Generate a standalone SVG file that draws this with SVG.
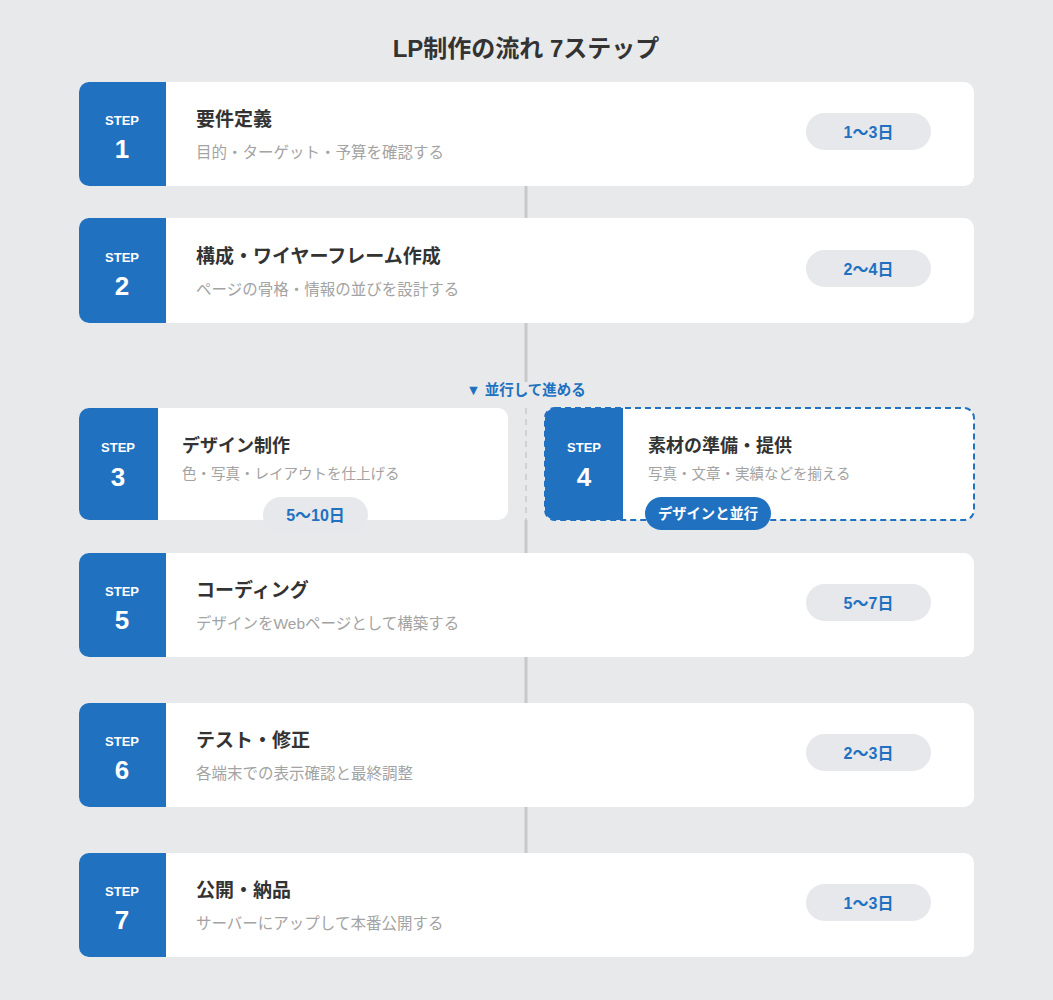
<svg xmlns="http://www.w3.org/2000/svg" width="1053" height="1000" viewBox="0 0 1053 1000">
<defs>
<style>
.bg{fill:#e8e9eb}
.card{fill:#ffffff}
.blk{fill:#2171c1}
.step{font-family:"Liberation Sans","Noto Sans CJK JP",sans-serif;font-size:13px;font-weight:bold;fill:#ffffff;text-anchor:middle}
.num{font-family:"Liberation Sans","Noto Sans CJK JP",sans-serif;font-size:26px;font-weight:bold;fill:#ffffff;text-anchor:middle}
.ttl{font-family:"Liberation Sans","Noto Sans CJK JP",sans-serif;font-size:19px;font-weight:bold;fill:#333333}
.sub{font-family:"Liberation Sans","Noto Sans CJK JP",sans-serif;font-size:15.5px;fill:#a3a3a3}
.ttl2{font-family:"Liberation Sans","Noto Sans CJK JP",sans-serif;font-size:18px;font-weight:bold;fill:#333333}
.sub2{font-family:"Liberation Sans","Noto Sans CJK JP",sans-serif;font-size:14.5px;fill:#a3a3a3}
.pill{fill:#e7e8eb}
.pt{font-family:"Liberation Sans","Noto Sans CJK JP",sans-serif;font-size:16px;font-weight:bold;fill:#2171c1;text-anchor:middle}
.ln{stroke:#c8c8c8;stroke-width:3;fill:none}
</style>
</defs>
<rect class="bg" x="0" y="0" width="1053" height="1000"/>
<text x="526" y="57" text-anchor="middle" font-family="Liberation Sans,Noto Sans CJK JP,sans-serif" font-size="24" font-weight="bold" fill="#333333">LP制作の流れ 7ステップ</text>

<g id="connectors">
<line class="ln" x1="526" y1="186" x2="526" y2="218"/>
<line class="ln" x1="526" y1="323" x2="526" y2="382"/>
<line x1="526" y1="408" x2="526" y2="520" stroke="#d2d2d2" stroke-width="2" stroke-dasharray="6 5"/>
<line class="ln" x1="526" y1="520" x2="526" y2="553"/>
<line class="ln" x1="526" y1="657" x2="526" y2="703"/>
<line class="ln" x1="526" y1="807" x2="526" y2="853"/>
<text x="526" y="395" text-anchor="middle" font-family="Liberation Sans,Noto Sans CJK JP,sans-serif" font-size="14.5" font-weight="bold" fill="#2171c1">▼ 並行して進める</text>
</g>

<g id="step1">
<rect class="card" x="79" y="82" width="895" height="104" rx="10"/>
<path class="blk" d="M89 82H166V186H89A10 10 0 0 1 79 176V92A10 10 0 0 1 89 82Z"/>
<text class="step" x="122" y="125">STEP</text>
<text class="num" x="122" y="158">1</text>
<text class="ttl" x="196" y="126">要件定義</text>
<text class="sub" x="196" y="158">目的・ターゲット・予算を確認する</text>
<rect class="pill" x="806" y="113" width="125" height="37" rx="18.5"/>
<text class="pt" x="868.5" y="137.5">1〜3日</text>
</g>

<g id="step2">
<rect class="card" x="79" y="218" width="895" height="105" rx="10"/>
<path class="blk" d="M89 218H166V323H89A10 10 0 0 1 79 313V228A10 10 0 0 1 89 218Z"/>
<text class="step" x="122" y="262">STEP</text>
<text class="num" x="122" y="295">2</text>
<text class="ttl" x="196" y="263">構成・ワイヤーフレーム作成</text>
<text class="sub" x="196" y="295">ページの骨格・情報の並びを設計する</text>
<rect class="pill" x="806" y="250" width="125" height="37" rx="18.5"/>
<text class="pt" x="868.5" y="274.5">2〜4日</text>
</g>

<g id="step3">
<rect class="card" x="79" y="408" width="429" height="112" rx="10"/>
<path class="blk" d="M89 408H158V520H89A10 10 0 0 1 79 510V418A10 10 0 0 1 89 408Z"/>
<text class="step" x="118" y="452">STEP</text>
<text class="num" x="118" y="486">3</text>
<text class="ttl2" x="182" y="452">デザイン制作</text>
<text class="sub2" x="182" y="479">色・写真・レイアウトを仕上げる</text>
<rect class="pill" x="263" y="497" width="105" height="36" rx="18"/>
<text class="pt" x="315.5" y="521">5〜10日</text>
</g>

<g id="step4">
<rect class="card" x="545" y="408" width="429" height="112" rx="10"/>
<path class="blk" d="M555 408H623V520H555A10 10 0 0 1 545 510V418A10 10 0 0 1 555 408Z"/>
<rect x="545" y="408" width="429" height="112" rx="10" fill="none" stroke="#2171c1" stroke-width="2" stroke-dasharray="6 4"/>
<text class="step" x="584" y="452">STEP</text>
<text class="num" x="584" y="486">4</text>
<text class="ttl2" x="648" y="452">素材の準備・提供</text>
<text class="sub2" x="648" y="479">写真・文章・実績などを揃える</text>
<rect x="645" y="497" width="126" height="33" rx="16.5" fill="#2171c1"/>
<text x="708" y="519" text-anchor="middle" font-family="Liberation Sans,Noto Sans CJK JP,sans-serif" font-size="14.3" font-weight="bold" fill="#ffffff">デザインと並行</text>
</g>

<g id="step5">
<rect class="card" x="79" y="553" width="895" height="104" rx="10"/>
<path class="blk" d="M89 553H166V657H89A10 10 0 0 1 79 647V563A10 10 0 0 1 89 553Z"/>
<text class="step" x="122" y="596">STEP</text>
<text class="num" x="122" y="629">5</text>
<text class="ttl" x="196" y="597">コーディング</text>
<text class="sub" x="196" y="629">デザインをWebページとして構築する</text>
<rect class="pill" x="806" y="584" width="125" height="37" rx="18.5"/>
<text class="pt" x="868.5" y="608.5">5〜7日</text>
</g>

<g id="step6">
<rect class="card" x="79" y="703" width="895" height="104" rx="10"/>
<path class="blk" d="M89 703H166V807H89A10 10 0 0 1 79 797V713A10 10 0 0 1 89 703Z"/>
<text class="step" x="122" y="746">STEP</text>
<text class="num" x="122" y="779">6</text>
<text class="ttl" x="196" y="747">テスト・修正</text>
<text class="sub" x="196" y="779">各端末での表示確認と最終調整</text>
<rect class="pill" x="806" y="734" width="125" height="37" rx="18.5"/>
<text class="pt" x="868.5" y="758.5">2〜3日</text>
</g>

<g id="step7">
<rect class="card" x="79" y="853" width="895" height="104" rx="10"/>
<path class="blk" d="M89 853H166V957H89A10 10 0 0 1 79 947V863A10 10 0 0 1 89 853Z"/>
<text class="step" x="122" y="896">STEP</text>
<text class="num" x="122" y="929">7</text>
<text class="ttl" x="196" y="897">公開・納品</text>
<text class="sub" x="196" y="929">サーバーにアップして本番公開する</text>
<rect class="pill" x="806" y="884" width="125" height="37" rx="18.5"/>
<text class="pt" x="868.5" y="908.5">1〜3日</text>
</g>
</svg>
